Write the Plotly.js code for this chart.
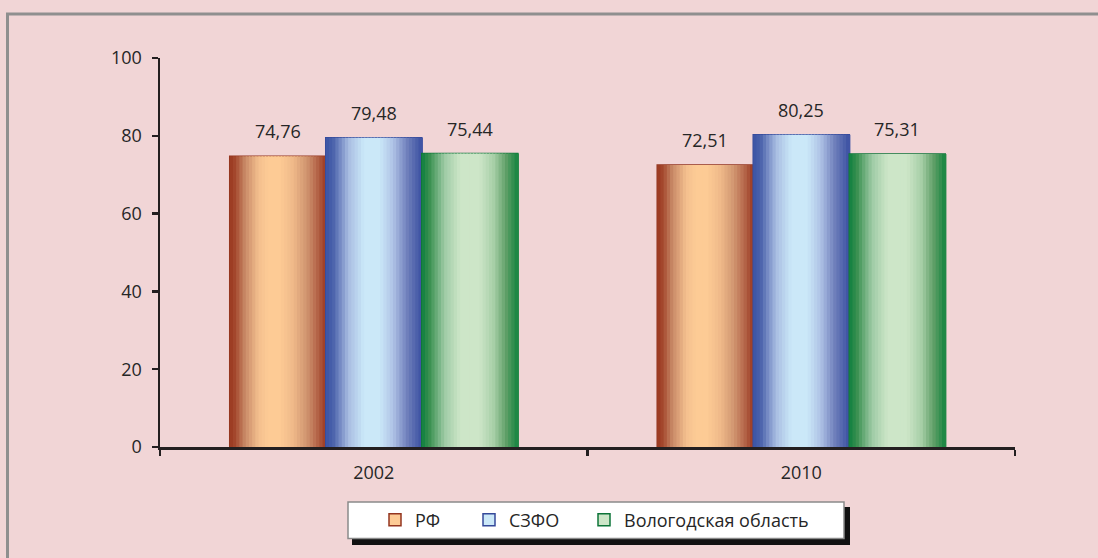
<!DOCTYPE html>
<html>
<head>
<meta charset="utf-8">
<script src="https://cdn.plot.ly/plotly-3.0.1.min.js"></script>
<style>html,body{margin:0;padding:0;background:#f1d5d6;}</style>
</head>
<body>
<div id="chart" style="width:1098px;height:558px;"></div>
<script>
// ---- data ----
const categories = ['2002', '2010'];
const seriesNames = ['РФ', 'СЗФО', 'Вологодская область'];
const valuesRF = [74.76, 72.51];
const valuesSZFO = [79.48, 80.25];
const valuesVologda = [75.44, 75.31];

// ---- style ----
const seriesValues = [valuesRF, valuesSZFO, valuesVologda];
const gradients = [
  [[0, '#9a3820'], [0.06, '#a5492e'], [0.16, '#c98a68'], [0.30, '#f3bf8e'], [0.40, '#fdcb95'], [0.52, '#fdcb95'], [0.66, '#efb989'], [0.80, '#d09570'], [0.91, '#b5664a'], [1, '#9b3a22']],
  [[0, '#3a54a4'], [0.08, '#4c63ac'], [0.24, '#a9bde2'], [0.40, '#cbe8f8'], [0.56, '#cbe8f8'], [0.70, '#afc3e6'], [0.85, '#6f7fbb'], [1, '#3b50a2']],
  [[0, '#0f7f3f'], [0.08, '#3a9050'], [0.24, '#9fcba6'], [0.40, '#cde6c8'], [0.60, '#cde6c8'], [0.75, '#a7cfa7'], [0.88, '#5f9f67'], [1, '#15843f']]
];
const edgeColors = ['#93351f', '#34499a', '#0d7438'];
const legendFill = ['#fdcb95', '#cbe8f8', '#cde6c8'];
const legendIds = ['legend', 'legend2', 'legend3'];
const legendSymbolX = [399, 493, 608]; // pixel centre of each legend symbol

function hexToRgb(h) { return [1, 3, 5].map(i => parseInt(h.substr(i, 2), 16)); }
function colorAt(stops, t) {
  for (let i = 0; i < stops.length - 1; i++) {
    const [t0, c0] = stops[i], [t1, c1] = stops[i + 1];
    if (t >= t0 && t <= t1) {
      const f = (t - t0) / (t1 - t0 || 1);
      const a = hexToRgb(c0), b = hexToRgb(c1);
      return 'rgb(' + a.map((v, k) => Math.round(v + (b[k] - v) * f)).join(',') + ')';
    }
  }
  return stops[stops.length - 1][1];
}
function fmt(v) { return v.toFixed(2).replace('.', ','); }

const barWidth = 0.2246;
const groupStart = -1.5 * barWidth;
const nStrips = 30;
const fontFamily = '"Open Sans", "Noto Sans", sans-serif';
const textColor = '#262626';

// pixel helpers for frame/legend box (plot area 160..1015 x, 58..447 y)
const px = x => (x - 160) / 855;
const py = y => (447 - y) / 389;

const traces = [];
const annotations = [];
seriesNames.forEach((name, s) => {
  const off = groupStart + s * barWidth;
  traces.push({
    type: 'bar', name: name, x: categories, y: seriesValues[s],
    width: barWidth, offset: off, legend: legendIds[s],
    marker: { color: legendFill[s], line: { color: edgeColors[s], width: 1.5 } },
    showlegend: true, hoverinfo: 'skip'
  });
  const sw = barWidth / nStrips;
  for (let k = 0; k < nStrips; k++) {
    traces.push({
      type: 'bar', name: name, x: categories, y: seriesValues[s],
      width: sw * 1.35, offset: off + k * sw,
      marker: { color: colorAt(gradients[s], (k + 0.5) / nStrips), line: { width: 0 } },
      showlegend: false, hoverinfo: 'skip'
    });
  }
  categories.forEach((c, i) => {
    annotations.push({
      x: i + off + barWidth / 2, y: seriesValues[s][i], xref: 'x', yref: 'y',
      text: fmt(seriesValues[s][i]), showarrow: false, yanchor: 'bottom', yshift: 11,
      font: { family: fontFamily, size: 18, color: textColor }
    });
  });
});

const layout = {
  width: 1098, height: 558,
  margin: { l: 160, r: 83, t: 58, b: 111 },
  paper_bgcolor: '#f1d5d6', plot_bgcolor: 'rgba(0,0,0,0)',
  barmode: 'overlay',
  font: { family: fontFamily, size: 18, color: textColor },
  xaxis: {
    type: 'category', showline: true, linecolor: '#231f20', linewidth: 2.5,
    ticks: 'outside', tickson: 'boundaries', ticklen: 6, tickwidth: 2.5, tickcolor: '#231f20',
    showgrid: false, zeroline: false, ticklabelstandoff: 8,
    tickfont: { family: fontFamily, size: 18, color: textColor }
  },
  yaxis: {
    range: [0, 100], dtick: 20, showline: true, linecolor: '#231f20', linewidth: 2.5,
    ticks: 'outside', ticklen: 6, tickwidth: 2.5, tickcolor: '#231f20',
    showgrid: false, zeroline: false, ticklabelstandoff: 6,
    tickfont: { family: fontFamily, size: 18, color: textColor }
  },
  annotations: annotations,
  shapes: [
    { type: 'line', xref: 'paper', yref: 'paper', x0: px(7.5), x1: px(7.5), y0: py(13), y1: py(560), line: { color: '#8f8f8f', width: 3 }, layer: 'below' },
    { type: 'line', xref: 'paper', yref: 'paper', x0: px(6), x1: px(1100), y0: py(14), y1: py(14), line: { color: '#8f8f8f', width: 3 }, layer: 'below' },
    { type: 'rect', xref: 'paper', yref: 'paper', x0: px(352), x1: px(850), y0: py(507), y1: py(545), fillcolor: '#111111', line: { width: 0 }, layer: 'above' },
    { type: 'rect', xref: 'paper', yref: 'paper', x0: px(348), x1: px(844), y0: py(502), y1: py(538.5), fillcolor: '#ffffff', line: { color: '#8a8a8a', width: 1.5 }, layer: 'above' }
  ]
};
legendIds.forEach((id, s) => {
  layout[id] = {
    orientation: 'h', x: px(legendSymbolX[s] - 24), xanchor: 'left', y: py(520), yanchor: 'middle',
    bgcolor: 'rgba(0,0,0,0)', borderwidth: 0,
    font: { family: fontFamily, size: 18, color: textColor }
  };
});

Plotly.newPlot('chart', traces, layout, { displayModeBar: false, staticPlot: true });
</script>
</body>
</html>
